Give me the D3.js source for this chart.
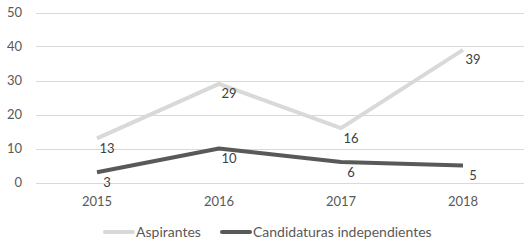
<!DOCTYPE html>
<html>
<head>
<meta charset="utf-8">
<script src="https://cdn.jsdelivr.net/npm/d3@7"></script>
<style>
    body { margin: 0; background: #fff; }
    svg { display: block; font-family: Lato, "Open Sans", sans-serif; }
</style>
</head>
<body>
<div id="chart"></div>
<script>
// chart data
const years = ['2015', '2016', '2017', '2018'];
const aspirantes = [13, 29, 16, 39];
const candidaturas = [3, 10, 6, 5];
const yTicks = [0, 10, 20, 30, 40, 50];
const seriesNames = ['Aspirantes', 'Candidaturas independientes'];

function draw() {
    const width = 528, height = 247;
    const margin = { top: 12.5, right: 4, bottom: 64.5, left: 36 };

    const svg = d3.select('#chart').append('svg')
        .attr('width', width)
        .attr('height', height);

    const x = d3.scaleBand()
        .domain(years)
        .range([margin.left, width - margin.right]);

    const y = d3.scaleLinear()
        .domain([0, 50])
        .range([height - margin.bottom, margin.top]);

    // gridlines
    svg.append('g')
        .selectAll('line')
        .data(yTicks)
        .enter().append('line')
        .attr('x1', margin.left)
        .attr('x2', width - margin.right)
        .attr('y1', d => Math.round(y(d)) + 0.5)
        .attr('y2', d => Math.round(y(d)) + 0.5)
        .attr('stroke', '#d9d9d9')
        .attr('stroke-width', 1);

    // y axis labels
    const yAxis = d3.axisLeft(y).tickValues(yTicks).tickSize(0).tickPadding(0);
    svg.append('g')
        .attr('transform', `translate(22, 0)`)
        .call(yAxis)
        .call(g => g.select('.domain').remove())
        .selectAll('text')
        .attr('fill', '#595959')
        .style('font-size', '13px')
        .style('font-family', 'Lato, sans-serif');

    // x axis labels
    const xAxis = d3.axisBottom(x).tickSize(0).tickPadding(0);
    svg.append('g')
        .attr('transform', `translate(0, ${height - margin.bottom + 14})`)
        .call(xAxis)
        .call(g => g.select('.domain').remove())
        .selectAll('text')
        .attr('fill', '#595959')
        .style('font-size', '13px')
        .style('font-family', 'Lato, sans-serif');

    const series = [
        { name: seriesNames[0], values: aspirantes, color: '#d9d9d9' },
        { name: seriesNames[1], values: candidaturas, color: '#595959' }
    ];

    const line = d3.line()
        .x((d, i) => x(years[i]) + x.bandwidth() / 2)
        .y(d => y(d));

    series.forEach(s => {
        svg.append('path')
            .datum(s.values)
            .attr('d', line)
            .attr('fill', 'none')
            .attr('stroke', s.color)
            .attr('stroke-width', 4)
            .attr('stroke-linejoin', 'round');
    });

    // data labels, sitting down-right of each point
    series.forEach(s => {
        svg.append('g')
            .selectAll('text')
            .data(s.values)
            .enter().append('text')
            .attr('x', (d, i) => x(years[i]) + x.bandwidth() / 2 + 10)
            .attr('y', d => y(d) + 10)
            .attr('dy', '0.35em')
            .attr('text-anchor', 'middle')
            .attr('fill', '#404040')
            .style('font-size', '13px')
            .text(d => d);
    });

    // legend
    const legend = svg.append('g').attr('transform', `translate(105, 232)`);
    const legendX = [0, 117];
    series.forEach((s, i) => {
        const g = legend.append('g').attr('transform', `translate(${legendX[i]}, 0)`);
        g.append('line')
            .attr('x1', 0).attr('x2', 28)
            .attr('stroke', s.color)
            .attr('stroke-width', 4)
            .attr('stroke-linecap', 'round');
        g.append('text')
            .attr('x', 31)
            .attr('dy', '0.35em')
            .attr('fill', '#595959')
            .style('font-size', '14px')
            .text(s.name);
    });
}
draw();
</script>
</body>
</html>
